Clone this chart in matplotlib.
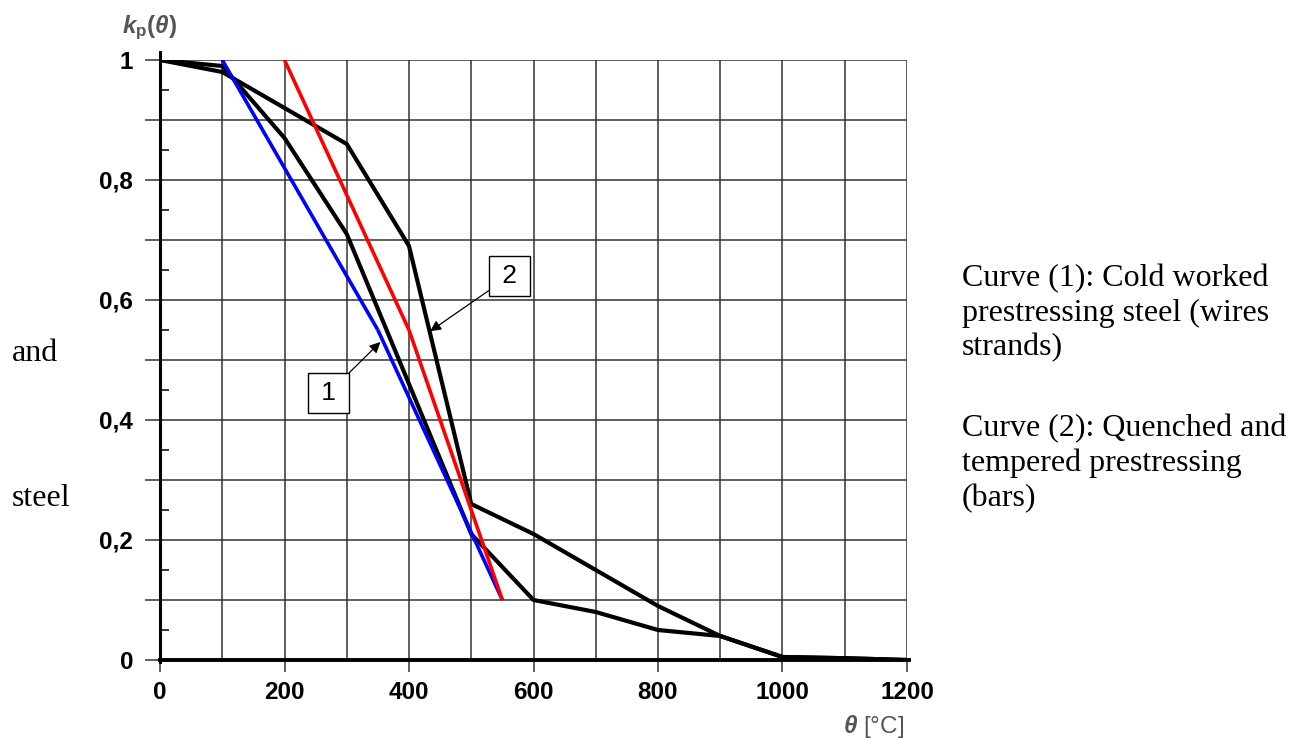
import matplotlib
matplotlib.use("Agg")
import matplotlib.pyplot as plt
from matplotlib.ticker import MultipleLocator, FixedLocator, FixedFormatter

plt.rcParams['font.family'] = 'Liberation Sans'
plt.rcParams['mathtext.fontset'] = 'custom'
plt.rcParams['mathtext.it'] = 'Liberation Sans:italic:bold'
plt.rcParams['mathtext.rm'] = 'Liberation Sans:bold'

# temperature (deg C) and reduction factor kp(theta)
theta = [0, 100, 200, 300, 400, 500, 600, 700, 800, 900, 1000, 1100, 1200]
kp_cold_worked = [1.0, 0.99, 0.87, 0.71, 0.46, 0.21, 0.10, 0.08, 0.05, 0.04, 0.005, 0.003, 0.0]
kp_quenched = [1.0, 0.98, 0.92, 0.86, 0.69, 0.26, 0.21, 0.15, 0.09, 0.04, 0.005, 0.003, 0.0]

# bilinear approximations (two segments each)
blue_x1, blue_y1 = [100, 350], [1.0, 0.55]
blue_x2, blue_y2 = [350, 550], [0.55, 0.10]
red_x1, red_y1 = [200, 400], [1.0, 0.55]
red_x2, red_y2 = [400, 550], [0.55, 0.10]

y_ticks = [0, 0.1, 0.2, 0.3, 0.4, 0.5, 0.6, 0.7, 0.8, 0.9, 1.0]
y_labels = ['0', '', '0,2', '', '0,4', '', '0,6', '', '0,8', '', '1']
x_ticks = [0, 200, 400, 600, 800, 1000, 1200]
x_labels = ['0', '200', '400', '600', '800', '1000', '1200']

fig = plt.figure(figsize=(12.96, 7.38), dpi=100)
ax = fig.add_axes([160 / 1296, 78 / 738, 747 / 1296, 600 / 738])

grid_c = '#333333'
ax.plot(theta, kp_quenched, color='black', lw=3.0, solid_joinstyle='round', zorder=3)
ax.plot(theta, kp_cold_worked, color='black', lw=3.0, solid_joinstyle='round', zorder=3)
ax.plot(blue_x1, blue_y1, color='#0000ff', lw=2.6, solid_capstyle='butt', zorder=4)
ax.plot(blue_x2, blue_y2, color='#0000ff', lw=2.6, solid_capstyle='butt', zorder=4)
ax.plot(red_x1, red_y1, color='#ff0000', lw=2.6, solid_capstyle='butt', zorder=4)
ax.plot(red_x2, red_y2, color='#ff0000', lw=2.6, solid_capstyle='butt', zorder=4)

ax.set_xlim(0, 1200)
ax.set_ylim(0, 1)

ax.xaxis.set_major_locator(FixedLocator(x_ticks))
ax.xaxis.set_major_formatter(FixedFormatter(x_labels))
ax.xaxis.set_minor_locator(MultipleLocator(100))
ax.yaxis.set_major_locator(FixedLocator(y_ticks))
ax.yaxis.set_major_formatter(FixedFormatter(y_labels))
ax.yaxis.set_minor_locator(MultipleLocator(0.05))

ax.tick_params(axis='y', which='major', direction='out', length=10.8, width=1.1,
               color=grid_c, pad=8.6, labelsize=17.5)
ax.tick_params(axis='y', which='minor', direction='in', length=6.5, width=1.1, color='black')
ax.tick_params(axis='x', which='major', direction='out', length=8.6, width=1.1,
               color=grid_c, pad=6.5, labelsize=17.5)
ax.tick_params(axis='x', which='minor', length=0)
for lab in ax.get_xticklabels() + ax.get_yticklabels():
    lab.set_fontweight('bold')

ax.set_axisbelow(True)
ax.grid(True, axis='x', which='both', color=grid_c, lw=1.1)
ax.grid(True, axis='y', which='major', color=grid_c, lw=1.1)

ax.spines['top'].set_visible(False)
ax.spines['right'].set_visible(False)
ax.spines['left'].set_linewidth(2.2)
ax.spines['left'].set_bounds(-0.004, 1.013)
ax.spines['bottom'].set_linewidth(2.8)
ax.spines['bottom'].set_bounds(0, 1204)

box = dict(boxstyle='square,pad=0.3', fc='white', ec='black', lw=1.0)
arrow = dict(arrowstyle='-|>', color='black', lw=0.9, mutation_scale=16, shrinkA=0, shrinkB=0)
ax.annotate('\u20091\u2009', xy=(354, 0.53), xytext=(271, 0.445), ha='center', va='center',
            fontsize=19, bbox=box, arrowprops=arrow, zorder=5)
ax.annotate('\u20092\u2009', xy=(434, 0.548), xytext=(562, 0.64), ha='center', va='center',
            fontsize=19, bbox=box, arrowprops=arrow, zorder=5)

fig.text(122 / 1296, 1 - 33 / 738, r'$k_{\rm p}(\theta)$', fontsize=17.5, color='#555555')
fig.text(843 / 1296, 1 - 733 / 738, r'$\theta$ [°C]', fontsize=17.5, color='#555555')

serif = 'Liberation Serif'
fig.text(962 / 1296, 1 - 264 / 738,
         'Curve (1): Cold worked\nprestressing steel (wires\nstrands)',
         family=serif, fontsize=23, va='top', linespacing=1.24)
fig.text(962 / 1296, 1 - 414 / 738,
         'Curve (2): Quenched and\ntempered prestressing\n(bars)',
         family=serif, fontsize=23, va='top', linespacing=1.24)
fig.text(12 / 1296, 1 - 361 / 738, 'and', family=serif, fontsize=23, va='baseline')
fig.text(12 / 1296, 1 - 506 / 738, 'steel', family=serif, fontsize=23, va='baseline')

fig.savefig('out.png', dpi=100)
